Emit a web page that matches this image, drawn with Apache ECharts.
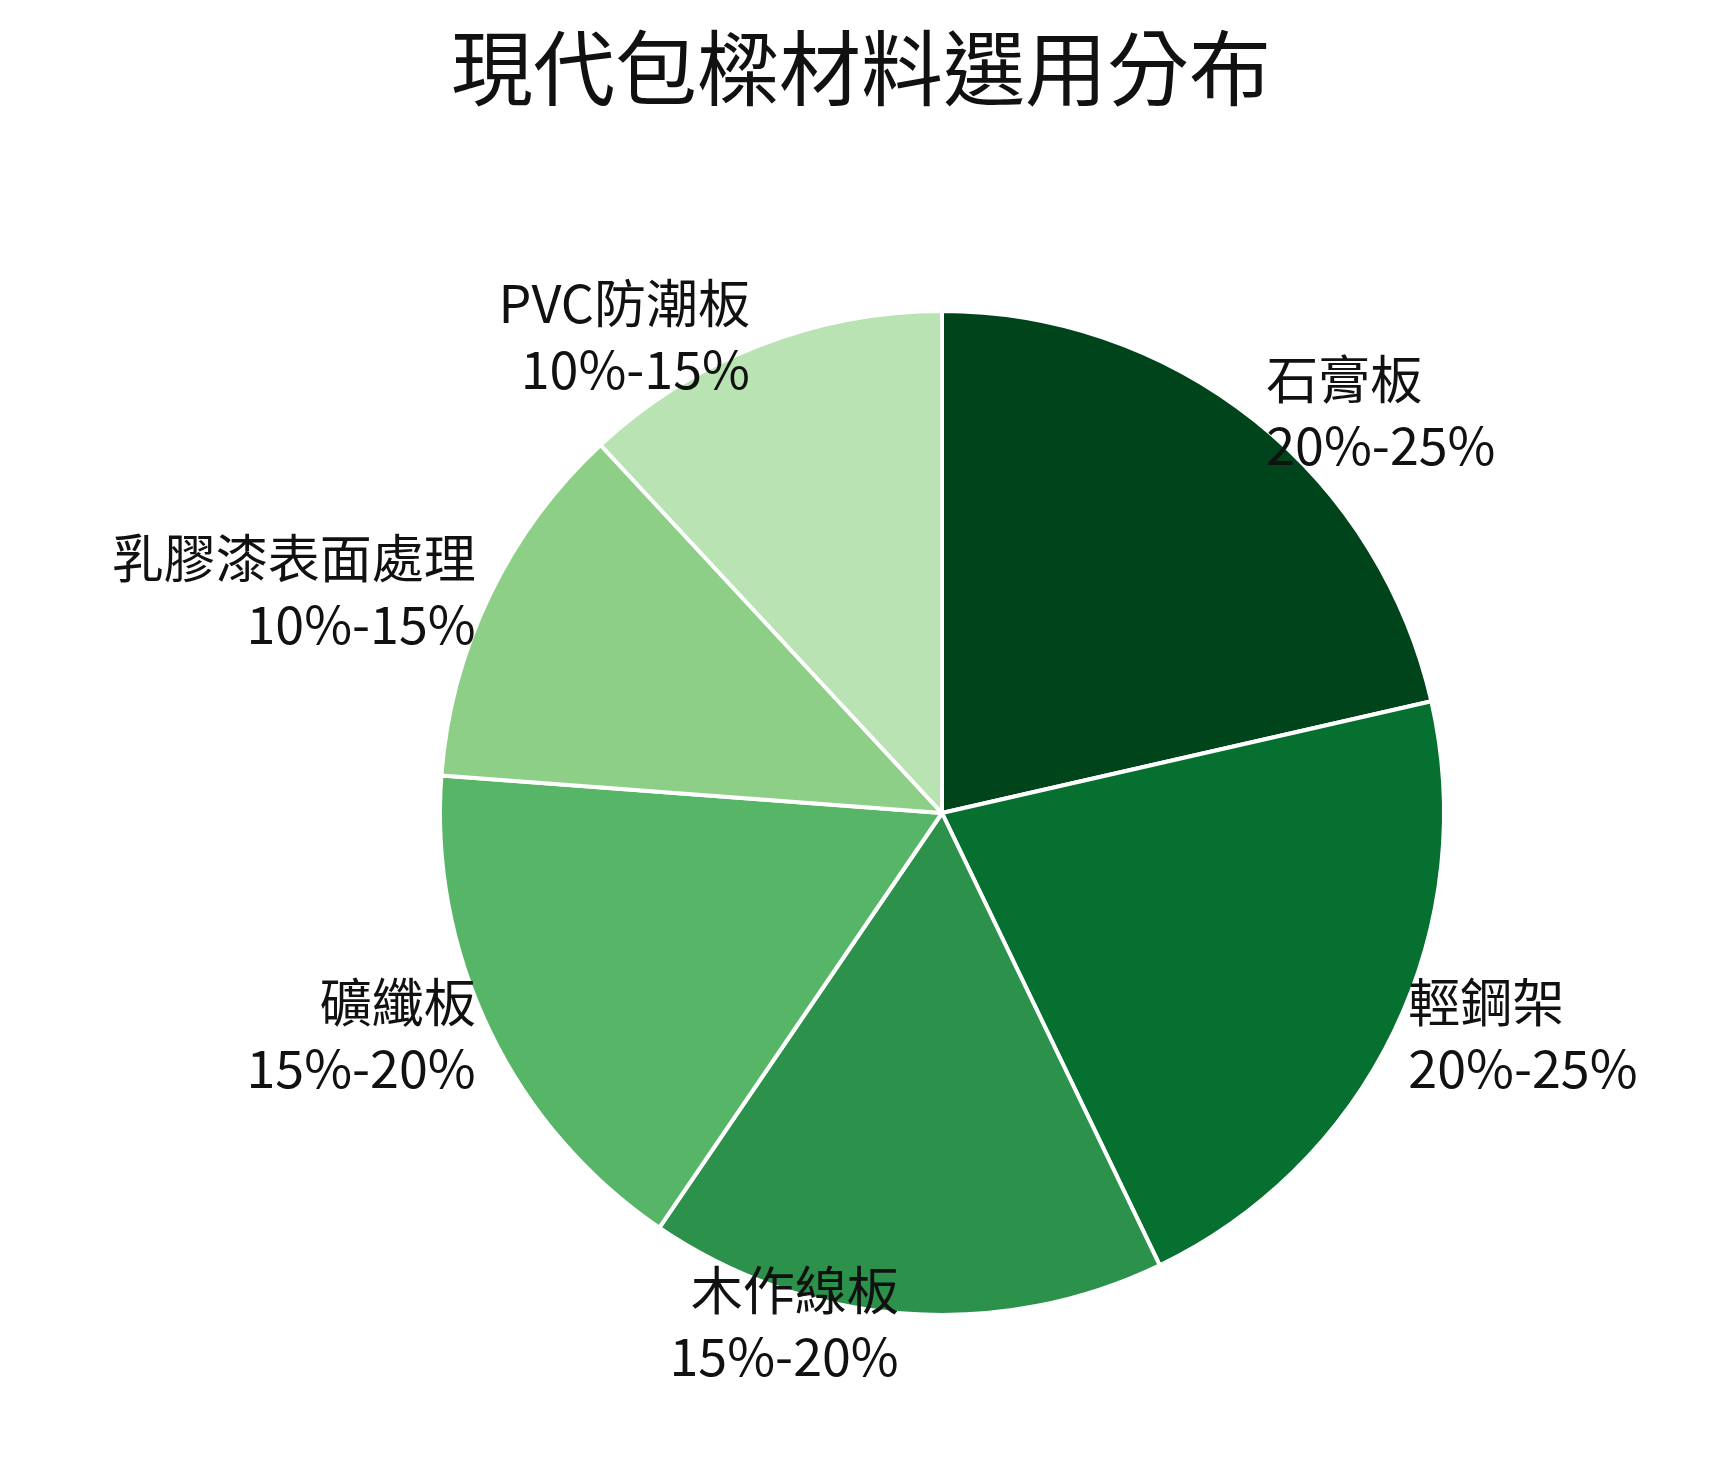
<!DOCTYPE html>
<html><head><meta charset="utf-8">
<script src="https://cdn.jsdelivr.net/npm/echarts@6/dist/echarts.min.js"></script>
<style>html,body{margin:0;background:#fff}#c{width:1722px;height:1468px}</style>
</head><body><div id="c"></div>
<script>
const categories = ['石膏板','輕鋼架','木作線板','礦纖板','乳膠漆表面處理','PVC防潮板'];
const ranges = ['20%-25%','20%-25%','15%-20%','15%-20%','10%-15%','10%-15%'];
const values = [22.5,22.5,17.5,17.5,12.5,12.5];
const colors = ['#00441b','#067030','#2c924b','#56b567','#8ecf87','#b9e3b2'];
const chart = echarts.init(document.getElementById('c'));
chart.setOption({
  title:{text:'現代包樑材料選用分布',left:'center',top:22,textStyle:{fontFamily:'Noto Sans CJK TC',fontSize:82,fontWeight:'normal',color:'#111'}},
  series:[{type:'pie',center:[942,813],radius:[0,502],startAngle:90,clockwise:true,
    data:categories.map((c,i)=>({name:c,value:values[i],itemStyle:{color:colors[i]},range:ranges[i]})),
    itemStyle:{borderColor:'#fff',borderWidth:4},
    label:{show:true,position:'outside',formatter:p=>p.name+'\n'+ranges[p.dataIndex],fontFamily:'Noto Sans CJK TC',fontSize:52,lineHeight:66,color:'#111'},
    labelLine:{show:false,length:10,length2:0},
    emphasis:{disabled:true},animation:false}]
});
</script></body></html>
